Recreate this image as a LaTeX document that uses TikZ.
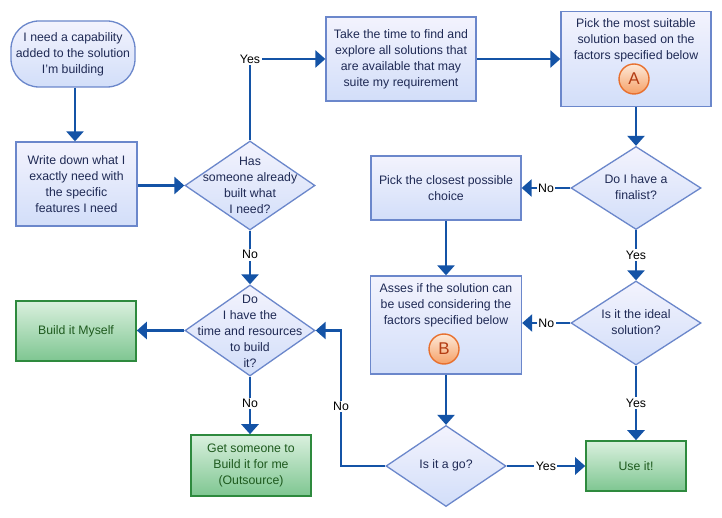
\documentclass[tikz,border=0pt]{standalone}
\usepackage{fontspec}
\setmainfont{Liberation Sans}
\usetikzlibrary{shapes.geometric,arrows.meta}
\definecolor{arrowblue}{HTML}{1453A6}
\definecolor{boxtop}{HTML}{F3F3FD}
\definecolor{boxbot}{HTML}{D2DEF9}
\definecolor{boxborder}{HTML}{6B87CB}
\definecolor{boxtext}{HTML}{1F2A55}
\definecolor{greentop}{HTML}{DAF0DE}
\definecolor{greenbot}{HTML}{7EC691}
\definecolor{greenborder}{HTML}{2E8A3E}
\definecolor{greentext}{HTML}{1E5A1E}
\definecolor{circtop}{HTML}{FDE9D8}
\definecolor{circbot}{HTML}{F5A067}
\definecolor{circborder}{HTML}{E8702E}
\definecolor{circtext}{HTML}{B33B12}
\begin{document}
\begin{tikzpicture}[x=1pt,y=-1pt,
  every node/.style={font=\fontsize{12.3}{16}\selectfont},
  bluebox/.style={draw=boxborder, line width=1.3pt, top color=boxtop, bottom color=boxbot, inner sep=0pt, text=boxtext, align=center},
  greenbox/.style={draw=greenborder, line width=1.6pt, top color=greentop, bottom color=greenbot, inner sep=0pt, text=greentext, align=center},
  dia/.style={diamond, draw=boxborder, line width=1.3pt, top color=boxtop, bottom color=boxbot, inner sep=0pt},
  txt/.style={text=boxtext, align=center, inner sep=0pt},
  circ/.style={circle, draw=circborder, line width=1.4pt, top color=circtop, bottom color=circbot, minimum size=30pt, inner sep=0pt, text=circtext, font=\fontsize{17}{17}\selectfont},
  arr/.style={draw=arrowblue, line width=2.6pt, -{Triangle[length=10pt,width=17pt]}},
  lab/.style={fill=white, inner sep=1.5pt, text=black}
]
\fill[white] (0,0) rectangle (722,518);
\useasboundingbox (0,0) rectangle (722,518);

% nodes
\node[bluebox, minimum width=124pt, minimum height=66pt, rounded corners=28pt] (start) at (73,54) {I need a capability\\added to the solution\\I'm building};
\node[bluebox, minimum width=121pt, minimum height=84pt] (write) at (76.5,184) {Write down what I\\exactly need with\\the specific\\features I need};
\node[dia, minimum width=130pt, minimum height=89pt] (has) at (250,185.5) {};
\node[txt] (hast) at (250,185.5) {Has\\someone already\\built what\\I need?};
\node[bluebox, minimum width=150pt, minimum height=84pt] (take) at (401,59) {Take the time to find and\\explore all solutions that\\are available that may\\suite my requirement};
\node[bluebox, minimum width=150pt, minimum height=95pt] (pick) at (636,59) {};
\node[txt] (pickt) at (636,40) {Pick the most suitable\\solution based on the\\factors specified below};
\node[circ] (ca) at (634,79) {A};
\node[dia, minimum width=130pt, minimum height=83pt] (fin) at (636,188) {};
\node[txt] (fint) at (636,187) {Do I have a\\finalist?};
\node[bluebox, minimum width=150pt, minimum height=64pt] (closest) at (446,188) {Pick the closest possible\\choice};
\node[dia, minimum width=130pt, minimum height=84pt] (ideal) at (636,323) {};
\node[txt] (idealt) at (636,322) {Is it the ideal\\solution?};
\node[bluebox, minimum width=151pt, minimum height=98pt] (asses) at (446,325) {};
\node[txt] (assest) at (446,305) {Asses if the solution can\\be used considering the\\factors specified below};
\node[circ] (cb) at (444,349) {B};
\node[greenbox, minimum width=100pt, minimum height=50pt] (use) at (636,466) {Use it!};
\node[dia, minimum width=120pt, minimum height=81pt] (go) at (446,466) {};
\node[txt] (got) at (446,465) {Is it a go?};
\node[dia, minimum width=130pt, minimum height=91pt] (time) at (250,330.5) {};
\node[txt] (timet) at (250,331) {Do\\I have the\\time and resources\\to build\\it?};
\node[greenbox, minimum width=120pt, minimum height=60pt] (build) at (76,331) {Build it Myself};
\node[greenbox, minimum width=120pt, minimum height=61pt] (get) at (251,465.5) {Get someone to\\Build it for me\\(Outsource)};

\coordinate (c1) at (341,466);
\coordinate (c2) at (341,330.5);

% connectors
\draw[arr] ([xshift=2pt]start.south) -- ([xshift=2pt]start.south |- write.north);
\draw[arr] (write.east |- has) -- (has.west);
\draw[arr] (has.north) |- node[lab, pos=0.5] {Yes} (take.west);
\draw[arr] (take.east) -- (pick.west |- take.east);
\draw[arr] (pick.south) -- (fin.north);
\draw[arr] (fin.west) -- node[lab] {No} (closest.east |- fin.west);
\draw[arr] (fin.south) -- node[lab] {Yes} (ideal.north);
\draw[arr] (ideal.west) -- node[lab] {No} (asses.east |- ideal.west);
\draw[arr] (ideal.south) -- node[lab] {Yes} (use.north);
\draw[arr] (closest.south) -- (asses.north);
\draw[arr] (asses.south) -- (go.north);
\draw[arr] (go.east) -- node[lab] {Yes} (use.west |- go.east);
\draw[arr] (go.west) -- (c1) -- node[lab, pos=0.44] {No} (c2) -- (time.east);
\draw[arr] (has.south) -- node[lab, pos=0.45] {No} (time.north);
\draw[arr] (time.west) -- (build.east |- time.west);
\draw[arr] (time.south) -- node[lab, pos=0.47] {No} (get.north -| time.south);
\end{tikzpicture}
\end{document}
